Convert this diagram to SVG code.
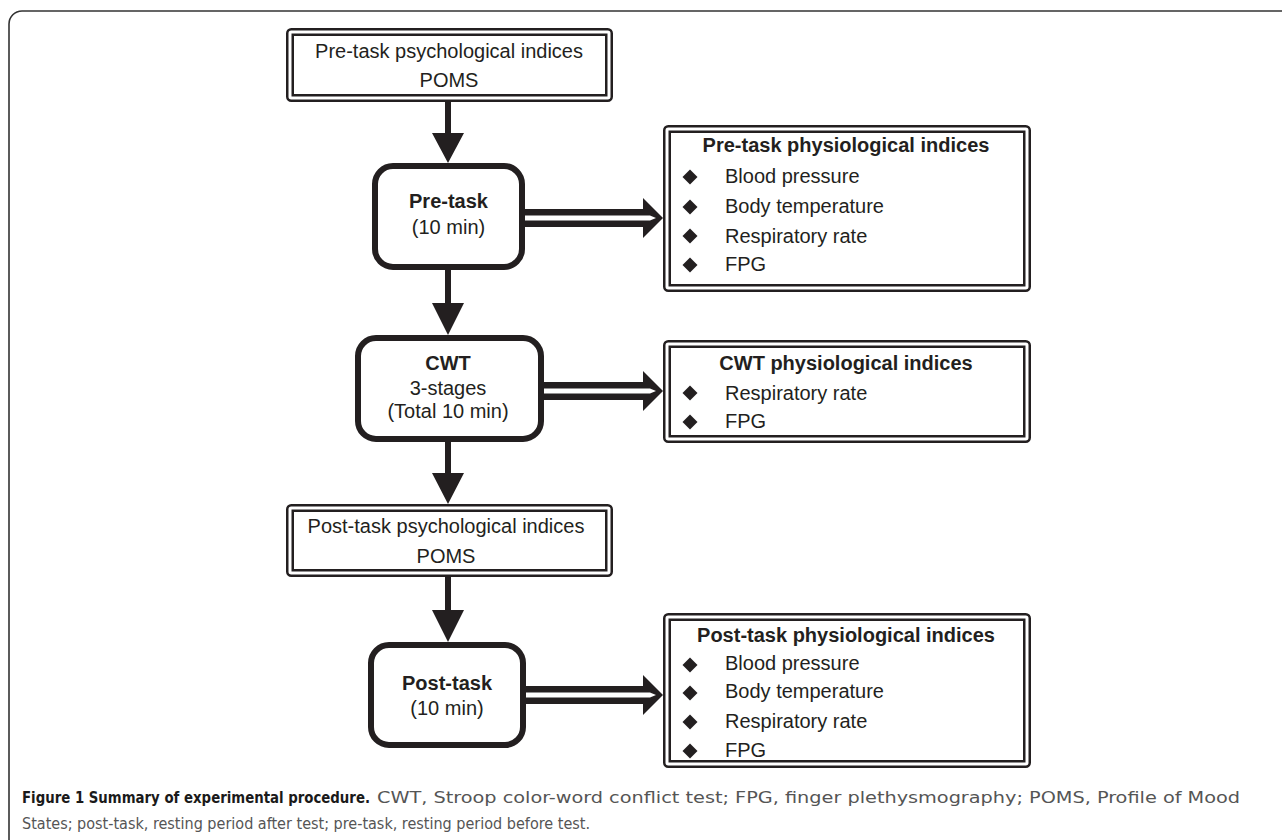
<svg xmlns="http://www.w3.org/2000/svg" width="1282" height="840" viewBox="0 0 1282 840">
<style>
.t{font-family:"Liberation Sans",Arial,sans-serif;font-size:20px;fill:#231f20}
.b{font-weight:bold}
.m{text-anchor:middle}
.thick{fill:none;stroke:#231f20;stroke-width:6}
.o{fill:#fff;stroke:#231f20;stroke-width:2.5}
.i{fill:none;stroke:#231f20;stroke-width:2.5}
.ar{fill:#231f20}
.cap{font-family:"DejaVu Sans Condensed","Liberation Sans",sans-serif;font-size:16px}
</style>
<defs>
<path id="dia" d="M0,-7.5 L7.5,0 L0,7.5 L-7.5,0 Z" fill="#231f20"/>
</defs>
<rect x="9" y="11" width="1300" height="850" rx="13" fill="none" stroke="#333" stroke-width="1.6"/>

<g id="connectors">
<path class="ar" d="M445,102 L451,102 L451,133 L464,133 L448,163 L432,133 L445,133 Z"/>
<path class="ar" d="M445,270 L451,270 L451,303 L464,303 L448,335 L432,303 L445,303 Z"/>
<path class="ar" d="M445,442 L451,442 L451,473 L464,473 L448,504 L432,473 L445,473 Z"/>
<path class="ar" d="M445,577 L451,577 L451,610 L464,610 L448,642 L432,610 L445,610 Z"/>
<g id="dbl-pre">
<path class="ar" d="M525,209 L643,209 L643,198 L663,218 L643,238 L643,227 L525,227 Z"/>
<path fill="#fff" d="M525,215.5 L650,215.5 L656,218 L650,220.5 L525,220.5 Z"/>
</g>
<g id="dbl-cwt">
<path class="ar" d="M543,382 L643,382 L643,371 L663,391 L643,411 L643,400 L543,400 Z"/>
<path fill="#fff" d="M543,388.5 L650,388.5 L656,391 L650,393.5 L543,393.5 Z"/>
</g>
<g id="dbl-post">
<path class="ar" d="M525,686 L643,686 L643,675 L663,695 L643,715 L643,704 L525,704 Z"/>
<path fill="#fff" d="M525,692.5 L650,692.5 L656,695 L650,697.5 L525,697.5 Z"/>
</g>
</g>

<g id="pre-psych">
<rect class="o" x="287.25" y="29.25" width="324.5" height="71.5" rx="4"/>
<rect class="i" x="292.75" y="34.75" width="313.5" height="60.5"/>
<text class="t m" x="449" y="58">Pre-task psychological indices</text>
<text class="t m" x="449" y="87">POMS</text>
</g>

<g id="pre-task">
<rect class="thick" x="375" y="166" width="147" height="101" rx="18"/>
<text class="t m b" x="448.5" y="208">Pre-task</text>
<text class="t m" x="448.5" y="234">(10 min)</text>
</g>

<g id="pre-phys">
<rect class="o" x="664.25" y="126.25" width="365.5" height="164.5" rx="4"/>
<rect class="i" x="669.75" y="131.75" width="354.5" height="153.5"/>
<text class="t m b" x="846" y="152">Pre-task physiological indices</text>
<use href="#dia" x="690" y="177"/><text class="t" x="725" y="183">Blood pressure</text>
<use href="#dia" x="690" y="207"/><text class="t" x="725" y="213">Body temperature</text>
<use href="#dia" x="690" y="236"/><text class="t" x="725" y="243">Respiratory rate</text>
<use href="#dia" x="690" y="265"/><text class="t" x="725" y="271">FPG</text>
</g>

<g id="cwt">
<rect class="thick" x="358" y="338" width="183" height="101" rx="18"/>
<text class="t m b" x="448" y="370">CWT</text>
<text class="t m" x="448" y="395">3-stages</text>
<text class="t m" x="448" y="418">(Total 10 min)</text>
</g>

<g id="cwt-phys">
<rect class="o" x="664.25" y="341.25" width="365.5" height="100.5" rx="4"/>
<rect class="i" x="669.75" y="346.75" width="354.5" height="89.5"/>
<text class="t m b" x="846" y="370">CWT physiological indices</text>
<use href="#dia" x="690" y="393"/><text class="t" x="725" y="400">Respiratory rate</text>
<use href="#dia" x="690" y="422"/><text class="t" x="725" y="428">FPG</text>
</g>

<g id="post-psych">
<rect class="o" x="287.25" y="505.25" width="324.5" height="70.5" rx="4"/>
<rect class="i" x="292.75" y="510.75" width="313.5" height="59.5"/>
<text class="t m" x="446" y="533">Post-task psychological indices</text>
<text class="t m" x="446" y="563">POMS</text>
</g>

<g id="post-task">
<rect class="thick" x="371" y="645" width="152" height="100" rx="18"/>
<text class="t m b" x="447" y="690">Post-task</text>
<text class="t m" x="447" y="715">(10 min)</text>
</g>

<g id="post-phys">
<rect class="o" x="664.25" y="614.25" width="365.5" height="152.5" rx="4"/>
<rect class="i" x="669.75" y="619.75" width="354.5" height="141.5"/>
<text class="t m b" x="846" y="642">Post-task physiological indices</text>
<use href="#dia" x="690" y="665"/><text class="t" x="725" y="670">Blood pressure</text>
<use href="#dia" x="690" y="693"/><text class="t" x="725" y="698">Body temperature</text>
<use href="#dia" x="690" y="722"/><text class="t" x="725" y="728">Respiratory rate</text>
<use href="#dia" x="690" y="751"/><text class="t" x="725" y="757">FPG</text>
</g>

<g id="caption">
<text class="cap" x="22" y="803" font-size="15" font-weight="bold" fill="#1a1a1a" textLength="348" lengthAdjust="spacingAndGlyphs">Figure 1 Summary of experimental procedure.</text>
<text class="cap" x="377" y="803" fill="#555" textLength="863" lengthAdjust="spacingAndGlyphs">CWT, Stroop color-word conflict test; FPG, finger plethysmography; POMS, Profile of Mood</text>
<text class="cap" x="22" y="829" fill="#555" textLength="568" lengthAdjust="spacingAndGlyphs">States; post-task, resting period after test; pre-task, resting period before test.</text>
</g>
</svg>
